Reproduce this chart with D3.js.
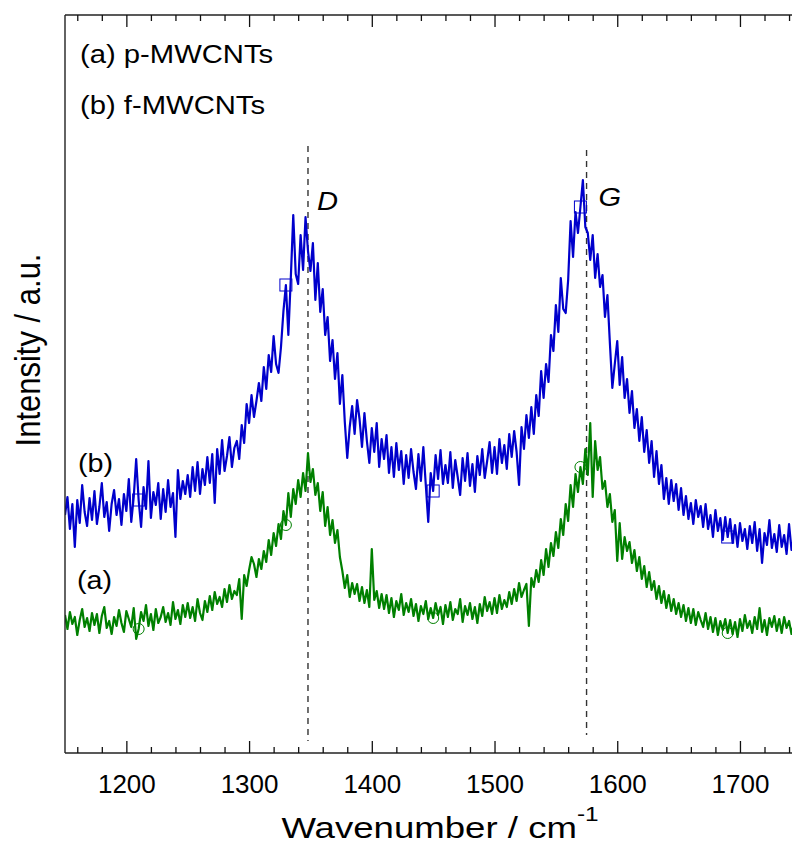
<!DOCTYPE html>
<html>
<head>
<meta charset="utf-8">
<script src="https://cdn.jsdelivr.net/npm/d3@7"></script>
<style>
  html, body { margin: 0; padding: 0; background: #fff; }
  svg { display: block; font-family: Arial, "Liberation Sans", sans-serif; }
</style>
</head>
<body>
<svg id="chart" width="792" height="845"></svg>
<script>
// ---------------- data ----------------
const wavenumbers = d3.range(1150, 1745, 2);   // cm^-1, 2 cm^-1 grid

// (b) f-MWCNTs  (blue)
const seriesB = [
  23.8, 25.6, 22.4, 24.9, 20.6, 25.3, 23.0, 26.8, 24.1, 22.7,
  25.5, 23.3, 26.2, 22.9, 24.6, 27.0, 23.6, 25.1, 22.2, 24.9,
  26.3, 23.8, 25.4, 22.8, 25.9, 24.2, 27.4, 23.1, 25.6, 29.4,
  25.3, 22.6, 26.6, 24.4, 29.2, 23.5, 26.1, 24.8, 27.0, 23.4,
  26.4, 24.1, 27.3, 24.6, 26.0, 21.6, 28.3, 25.4, 27.2, 25.9,
  27.8, 25.6, 28.6, 26.2, 29.1, 25.9, 28.4, 26.8, 29.6, 27.0,
  29.9, 25.0, 30.4, 27.9, 31.3, 28.2, 29.7, 31.6, 28.6, 30.5,
  31.2, 29.4, 32.8, 31.0, 34.9, 33.0, 35.8, 33.6, 35.2, 37.0,
  35.2, 38.6, 36.4, 39.8, 38.1, 41.7, 38.9, 38.0, 40.6, 44.2,
  46.8, 41.8, 47.5, 53.8, 47.9, 46.9, 51.8, 48.3, 53.6, 50.2,
  48.2, 51.0, 45.3, 49.0, 44.1, 46.4, 41.8, 43.6, 39.2, 41.3,
  37.4, 40.0, 34.9, 37.8, 33.1, 29.5, 32.6, 34.7, 31.9, 35.3,
  33.4, 30.6, 34.0, 31.2, 29.0, 32.5, 30.1, 33.0, 28.6, 31.4,
  29.4, 31.8, 28.0, 30.6, 27.6, 31.0, 28.3, 30.2, 26.9, 29.8,
  27.5, 30.4, 28.1, 26.4, 29.9, 27.2, 30.6, 26.8, 23.1, 28.0,
  26.2, 29.8, 27.4, 30.3, 26.9, 28.8, 27.0, 30.1, 26.5, 29.3,
  27.6, 25.8, 29.5, 27.2, 30.0, 26.7, 28.9, 26.1, 29.7, 27.8,
  30.4, 27.5, 29.2, 31.1, 28.0, 30.6, 27.9, 31.4, 29.0, 30.8,
  28.4, 31.9, 29.6, 32.2, 30.1, 26.8, 32.6, 30.4, 33.8, 31.5,
  34.6, 31.9, 35.8, 33.7, 38.2, 35.5, 38.9, 37.1, 41.8, 40.2,
  44.8, 42.1, 47.5, 44.4, 44.0, 47.3, 53.2, 49.6, 54.1, 52.0,
  54.6, 57.3, 52.6, 52.0, 49.3, 51.8, 47.5, 49.9, 46.6, 47.8,
  43.6, 45.8, 41.0, 36.5, 38.9, 41.2, 36.8, 39.6, 35.5, 37.4,
  34.0, 36.2, 32.5, 34.4, 31.2, 33.6, 30.1, 32.3, 29.0, 31.2,
  27.6, 30.2, 26.9, 28.8, 25.4, 27.5, 24.9, 27.3, 25.2, 26.9,
  24.3, 26.5, 23.8, 25.7, 23.4, 25.0, 22.9, 25.3, 23.6, 24.7,
  22.6, 24.9, 22.4, 23.8, 21.6, 24.3, 22.2, 23.5, 21.3, 23.6,
  21.6, 23.4, 21.0, 22.8, 20.6, 23.0, 21.2, 22.4, 20.4, 22.7,
  21.0, 23.1, 20.2, 22.4, 19.0, 22.0, 20.8, 23.3, 20.5, 21.9,
  20.1, 22.8, 20.6, 21.8, 19.9, 22.9, 20.3, 21.8
];

// (a) p-MWCNTs  (green)
const seriesA = [
  13.8, 12.4, 14.1, 12.9, 13.6, 11.8, 13.3, 14.4, 12.6, 13.5,
  12.2, 14.0, 12.8, 13.9, 12.0, 13.7, 14.6, 12.5, 13.2, 11.9,
  13.6, 12.7, 14.3, 13.0, 12.1, 14.2, 13.4, 12.6, 14.5, 11.4,
  12.4, 14.1, 13.2, 14.8, 12.7, 13.9, 12.3, 14.4, 13.0, 13.6,
  14.6, 13.1, 14.0, 12.8, 15.1, 13.4, 14.3, 12.9, 14.8, 13.6,
  15.0, 13.5, 14.6, 13.2, 15.4, 14.0, 13.3, 15.2, 14.1, 15.7,
  14.3, 16.1, 14.9, 15.6, 14.6, 16.4, 15.1, 16.8, 15.4, 16.2,
  15.8, 17.4, 13.4, 17.8, 16.7, 18.3, 19.6, 18.9, 17.6, 19.4,
  18.4, 20.2, 19.1, 21.3, 19.8, 22.0, 20.7, 22.9, 21.4, 24.2,
  22.8, 26.0, 23.6, 26.4, 24.9, 27.3, 25.6, 28.0, 26.2, 30.0,
  27.1, 28.4, 25.8, 27.0, 24.2, 26.1, 22.7, 24.6, 21.8, 23.3,
  21.0, 22.3, 19.6, 18.2, 16.5, 17.8, 15.6, 17.0, 15.9, 16.9,
  15.2, 16.6, 15.0, 16.3, 14.6, 20.4, 15.3, 16.2, 14.5, 15.9,
  14.4, 15.8, 14.0, 15.5, 13.6, 15.2, 14.3, 15.9, 13.8, 15.0,
  14.1, 15.4, 13.7, 14.9, 13.2, 14.7, 13.9, 15.2, 13.4, 14.5,
  13.5, 15.0, 13.8, 14.6, 12.9, 14.8, 13.6, 15.1, 13.3, 14.4,
  13.9, 15.4, 13.1, 14.7, 13.8, 15.0, 13.4, 14.6, 13.0, 14.9,
  13.7, 15.6, 14.2, 15.1, 13.9, 15.5, 14.0, 15.8, 14.4, 15.3,
  14.6, 16.1, 14.9, 16.4, 15.2, 17.0, 15.6, 16.3, 16.9, 12.7,
  17.5, 16.6, 18.3, 17.1, 19.3, 17.8, 20.4, 18.6, 21.0, 19.7,
  22.1, 20.5, 23.4, 21.8, 24.9, 23.2, 26.8, 24.6, 27.9, 26.1,
  28.6, 26.9, 30.4, 27.8, 33.0, 25.6, 31.2, 28.3, 29.6, 26.4,
  27.2, 24.6, 25.9, 23.1, 24.3, 19.2, 23.0, 19.4, 21.6, 20.2,
  21.1, 19.0, 20.3, 18.2, 19.6, 17.4, 18.7, 16.6, 18.1, 16.3,
  17.2, 15.4, 16.7, 15.0, 16.2, 14.5, 15.8, 14.2, 15.4, 13.9,
  15.0, 13.6, 14.8, 13.2, 14.5, 13.0, 14.4, 12.8, 14.1, 13.3,
  12.6, 14.0, 12.4, 13.6, 12.1, 13.5, 11.8, 13.2, 12.3, 13.4,
  12.0, 13.3, 11.9, 13.1, 11.6, 13.4, 12.2, 13.8, 12.5, 13.2,
  12.0, 13.6, 12.4, 14.5, 12.1, 13.3, 11.8, 13.5, 12.6, 13.7,
  12.2, 13.4, 12.0, 13.6, 12.5, 13.2, 11.9, 13.0
];

const seriesLabels = ["(a) p-MWCNTs", "(b) f-MWCNTs"];
const curveTags = ["(a)", "(b)"];
const markerWavenumbers = [1210, 1330, 1450, 1570, 1690];
const peakPositions = [1348, 1575];
const peakNames = ["D", "G"];
const xMajorTicks = [1200, 1300, 1400, 1500, 1600, 1700];
const xMinorTicks = d3.range(1160, 1745, 20);

(function draw() {
  // ---------------- layout ----------------
  const svg = d3.select("#chart");
  const pLeft = 65, pTop = 15, pBottom = 753;
  const pxPerUnit = 1.2272;
  const pRight = pLeft + (1745 - 1150) * pxPerUnit;

  const x = d3.scaleLinear().domain([1150, 1745]).range([pLeft, pRight]);
  const y = d3.scaleLinear().domain([0, 73.8]).range([pBottom, pTop]);

  svg.append("rect").attr("width", 792).attr("height", 845).attr("fill", "#fff");

  svg.append("defs").append("clipPath").attr("id", "plotclip")
    .append("rect").attr("x", pLeft).attr("y", pTop)
    .attr("width", pRight - pLeft).attr("height", pBottom - pTop);

  const plot = svg.append("g").attr("clip-path", "url(#plotclip)");

  // dashed peak lines
  const dashTop = [60.7, 60.3], dashBottom = [1.2, 1.8];
  peakPositions.forEach((p, i) => {
    plot.append("line")
      .attr("x1", x(p)).attr("x2", x(p))
      .attr("y1", y(dashTop[i])).attr("y2", y(dashBottom[i]))
      .attr("stroke", "#333").attr("stroke-width", 1.4)
      .attr("stroke-dasharray", "6,5");
  });

  const line = d3.line().x((d, i) => x(wavenumbers[i])).y(d => y(d));
  const colors = { a: "#008000", b: "#0000cc" };

  plot.append("path").datum(seriesA)
    .attr("d", line).attr("fill", "none")
    .attr("stroke", colors.a).attr("stroke-width", 2.2).attr("stroke-linejoin", "round");
  plot.append("path").datum(seriesB)
    .attr("d", line).attr("fill", "none")
    .attr("stroke", colors.b).attr("stroke-width", 2.2).attr("stroke-linejoin", "round");

  // sparse markers (on data points)
  markerWavenumbers.forEach(w => {
    const i = wavenumbers.indexOf(w);
    plot.append("circle")
      .attr("cx", x(wavenumbers[i])).attr("cy", y(seriesA[i])).attr("r", 5.5)
      .attr("fill", "none").attr("stroke", colors.a).attr("stroke-width", 1);
    plot.append("rect")
      .attr("x", x(wavenumbers[i]) - 6).attr("y", y(seriesB[i]) - 6)
      .attr("width", 12).attr("height", 12)
      .attr("fill", "none").attr("stroke", colors.b).attr("stroke-width", 1);
  });

  // ---------------- frame & axes ----------------
  const frame = svg.append("g").attr("stroke", "#222").attr("stroke-width", 1.4);
  frame.append("line").attr("x1", pLeft).attr("x2", pLeft).attr("y1", pTop).attr("y2", pBottom);
  frame.append("line").attr("x1", pLeft).attr("x2", pRight).attr("y1", pTop).attr("y2", pTop);
  frame.append("line").attr("x1", pLeft).attr("x2", pRight).attr("y1", pBottom).attr("y2", pBottom);
  frame.append("line").attr("x1", pRight).attr("x2", pRight).attr("y1", pTop).attr("y2", pBottom);

  const minorOnly = xMinorTicks.filter(v => !xMajorTicks.includes(v));

  const axB = svg.append("g").attr("transform", `translate(0,${pBottom})`)
    .call(d3.axisBottom(x).tickValues(xMajorTicks).tickSize(-12).tickPadding(22).tickFormat(d3.format("d")));
  axB.select(".domain").remove();
  axB.selectAll(".tick line").attr("stroke", "#111").attr("stroke-width", 1.3);
  axB.selectAll(".tick text").attr("font-size", 26).attr("fill", "#000")
    .attr("font-family", "Arial, 'Liberation Sans', sans-serif");

  const axBm = svg.append("g").attr("transform", `translate(0,${pBottom})`)
    .call(d3.axisBottom(x).tickValues(minorOnly).tickSize(-6).tickFormat(""));
  axBm.select(".domain").remove();
  axBm.selectAll(".tick line").attr("stroke", "#111").attr("stroke-width", 1.3);

  const axT = svg.append("g").attr("transform", `translate(0,${pTop})`)
    .call(d3.axisTop(x).tickValues(xMajorTicks).tickSize(-12).tickFormat(""));
  axT.select(".domain").remove();
  axT.selectAll(".tick line").attr("stroke", "#111").attr("stroke-width", 1.3);
  const axTm = svg.append("g").attr("transform", `translate(0,${pTop})`)
    .call(d3.axisTop(x).tickValues(minorOnly).tickSize(-6).tickFormat(""));
  axTm.select(".domain").remove();
  axTm.selectAll(".tick line").attr("stroke", "#111").attr("stroke-width", 1.3);

  // ---------------- text ----------------
  const xTitle = svg.append("text")
    .attr("transform", "translate(440,838) scale(1.22,1)")
    .attr("text-anchor", "middle").attr("font-size", 30).attr("fill", "#000");
  xTitle.append("tspan").text("Wavenumber / cm");
  xTitle.append("tspan").attr("dy", -17).attr("font-size", 20).text("-1");

  svg.append("text")
    .attr("transform", "translate(40,350) rotate(-90) scale(1,1.16)")
    .attr("text-anchor", "middle").attr("font-size", 31).attr("fill", "#000")
    .text("Intensity / a.u.");

  const legendY = [63, 114];
  seriesLabels.forEach((t, i) => {
    svg.append("text")
      .attr("transform", `translate(80,${legendY[i]}) scale(1.17,1)`)
      .attr("font-size", 25).attr("fill", "#000").text(t);
  });

  const tagPos = [[77, 589], [78, 472]];
  curveTags.forEach((t, i) => {
    svg.append("text")
      .attr("transform", `translate(${tagPos[i][0]},${tagPos[i][1]}) scale(1.15,1)`)
      .attr("font-size", 25).attr("fill", "#000").text(t);
  });

  const peakLabelOffset = [[9, 210], [12, 206]];
  peakPositions.forEach((p, i) => {
    svg.append("text")
      .attr("transform", `translate(${x(p) + peakLabelOffset[i][0]},${peakLabelOffset[i][1]}) scale(1.12,1)`)
      .attr("font-size", 26).attr("font-style", "italic").attr("fill", "#000")
      .text(peakNames[i]);
  });
})();
</script>
</body>
</html>
